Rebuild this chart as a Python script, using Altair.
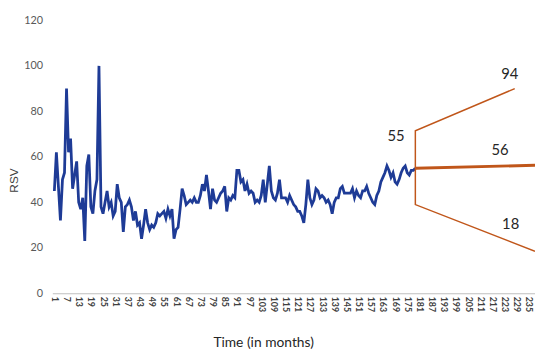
import altair as alt
import pandas as pd

# ---- observed series (months 1..179) ----
months = list(range(1, 180))
rsv = [
    45, 62, 47, 32, 50, 53, 90, 62, 68, 46,
    52, 58, 40, 37, 42, 23, 56, 61, 38, 35,
    45, 50, 100, 38, 35, 40, 45, 38, 40, 34,
    36, 48, 42, 40, 27, 38, 39, 41, 38, 32,
    36, 30, 31, 24, 30, 37, 31, 28, 30, 29,
    31, 35, 34, 35, 36, 33, 37, 34, 37, 24,
    28, 29, 37, 46, 43, 39, 40, 41, 40, 42,
    40, 40, 43, 48, 45, 52, 45, 37, 46, 41,
    40, 42, 44, 45, 47, 36, 42, 41, 43, 42,
    54, 54, 49, 50, 45, 48, 44, 45, 44, 40,
    41, 40, 43, 50, 40, 48, 56, 45, 42, 41,
    44, 50, 42, 42, 42, 40, 43, 41, 39, 38,
    36, 36, 34, 31, 39, 50, 42, 39, 41, 46,
    45, 42, 43, 42, 40, 41, 39, 35, 40, 42,
    42, 46, 47, 44, 44, 44, 44, 46, 42, 45,
    43, 42, 45, 45, 47, 44, 42, 40, 39, 43,
    45, 49, 51, 53, 56, 54, 51, 53, 49, 48,
    50, 53, 55, 56, 53, 52, 54, 54, 55,
]

# ---- forecast ----
fc_center_month = [179, 238]
fc_center_val = [55, 56.3]
fc_upper_month = [179, 179, 228]
fc_upper_val = [55, 71.5, 90]
fc_lower_month = [179, 179, 238]
fc_lower_val = [55, 39, 18.5]

# ---- annotations ----
ann_text = ["55", "94", "56", "18"]
ann_month = [169.5, 225.6, 220.8, 226.0]
ann_val = [69.0, 96.5, 62.8, 30.3]

x_ticks = list(range(1, 236, 6))
y_ticks = [0, 20, 40, 60, 80, 100, 120]

obs = pd.DataFrame({"month": months, "value": rsv})
center = pd.DataFrame({"month": fc_center_month, "value": fc_center_val, "seq": range(2)})
upper = pd.DataFrame({"month": fc_upper_month, "value": fc_upper_val, "seq": range(3)})
lower = pd.DataFrame({"month": fc_lower_month, "value": fc_lower_val, "seq": range(3)})
ann = pd.DataFrame({"month": ann_month, "value": ann_val, "label": ann_text})

FONT = "Lato"

x_enc = alt.X(
    "month:Q",
    scale=alt.Scale(domain=[0, 238], nice=False, zero=False),
    axis=alt.Axis(
        values=x_ticks,
        tickCount=60,
        labelAngle=90,
        labelFont=FONT,
        labelFontSize=9,
        labelFontWeight="bold",
        labelColor="#404040",
        labelPadding=3,
        labelFlush=False,
        labelOverlap=False,
        labelSeparation=0,
        ticks=False,
        grid=False,
        domainColor="#BFBFBF",
        domainWidth=1.2,
        title="Time (in months)",
        titleFont=FONT,
        titleFontSize=14,
        titleFontWeight="normal",
        titleColor="#262626",
        titleX=214,
        titleY=54,
        titleAlign="center",
        titleBaseline="alphabetic",
    ),
)
y_enc = alt.Y(
    "value:Q",
    scale=alt.Scale(domain=[0, 120], nice=False),
    axis=alt.Axis(
        values=y_ticks,
        tickCount=10,
        labelFont=FONT,
        labelFontSize=11,
        labelColor="#595959",
        labelPadding=10,
        ticks=False,
        grid=False,
        domain=False,
        title="RSV",
        titleFont="Liberation Sans",
        titleFontSize=12,
        titleFontWeight="normal",
        titleColor="#404040",
        titleX=-39,
        titleY=162,
        titleAngle=270,
        titleAlign="center",
        titleBaseline="middle",
    ),
)

obs_line = alt.Chart(obs).mark_line(color="#1E3B96", strokeWidth=2.8).encode(x=x_enc, y=y_enc)

fc_color = "#C0561A"
center_line = alt.Chart(center).mark_line(color=fc_color, strokeWidth=3).encode(
    x="month:Q", y="value:Q", order="seq:Q"
)
upper_line = alt.Chart(upper).mark_line(color=fc_color, strokeWidth=1.5).encode(
    x="month:Q", y="value:Q", order="seq:Q"
)
lower_line = alt.Chart(lower).mark_line(color=fc_color, strokeWidth=1.5).encode(
    x="month:Q", y="value:Q", order="seq:Q"
)
labels = alt.Chart(ann).mark_text(
    font=FONT, fontSize=15, color="#262626", align="center", baseline="middle"
).encode(x="month:Q", y="value:Q", text="label:N")

chart = (
    alt.layer(obs_line, center_line, upper_line, lower_line, labels)
    .properties(
        width=490,
        height=277,
        autosize=alt.AutoSizeParams(type="none"),
        padding={"left": 45, "top": 10, "right": 0, "bottom": 57},
        background="white",
    )
    .configure_view(stroke=None)
    .configure_axisX(labelOverlap=False, labelSeparation=0)
)

chart.save("out.html", embed_options={"renderer": "svg", "actions": False})
